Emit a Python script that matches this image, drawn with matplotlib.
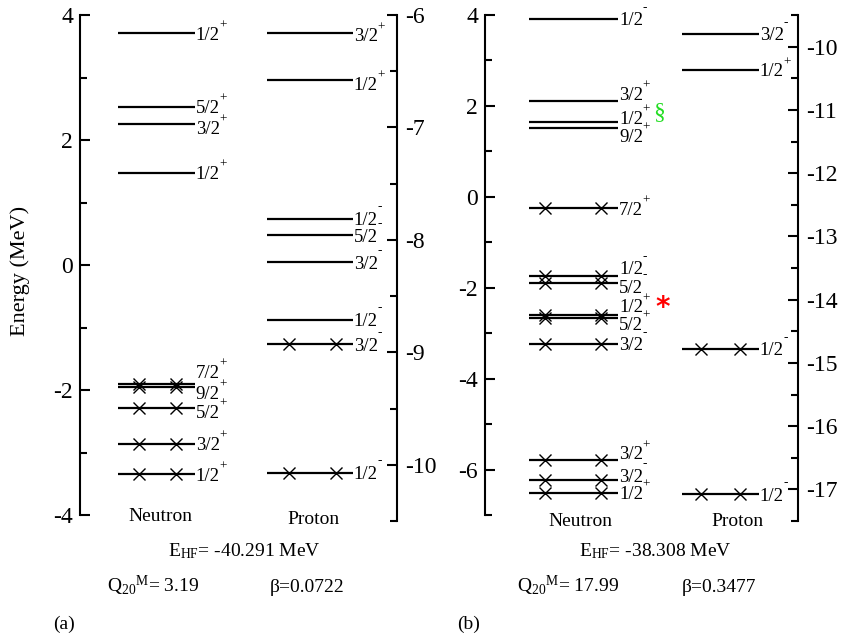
"""
단일 입자 준위 도식 (a) 구형, (b) 변형 -- 중성자/양성자 준위, 점유 준위는 x 표시
"""
import matplotlib
matplotlib.use('Agg')
import matplotlib.pyplot as plt
from matplotlib.ticker import MultipleLocator

plt.rcParams['font.family'] = ['Liberation Serif', 'DejaVu Serif']
plt.rcParams['mathtext.default'] = 'regular'
plt.rcParams['axes.unicode_minus'] = False

# ---- (a) 데이터 ----
neutron_a_E = [3.71, 2.53, 2.26, 1.48, -1.90, -1.95, -2.29, -2.86, -3.35]
neutron_a_spin = ['1/2', '5/2', '3/2', '1/2', '7/2', '9/2', '5/2', '3/2', '1/2']
neutron_a_par = ['+', '+', '+', '+', '+', '+', '+', '+', '+']
neutron_a_occ = [False, False, False, False, True, True, True, True, True]

proton_a_E = [-6.16, -6.58, -7.81, -7.96, -8.20, -8.71, -8.93, -10.07]
proton_a_spin = ['3/2', '1/2', '1/2', '5/2', '3/2', '1/2', '3/2', '1/2']
proton_a_par = ['+', '+', '-', '-', '-', '-', '-', '-']
proton_a_occ = [False, False, False, False, False, False, True, True]

# ---- (b) 데이터 ----
neutron_b_E = [3.91, 2.11, 1.64, 1.52, -0.25, -1.74, -1.90, -2.60, -2.66,
               -3.24, -5.79, -6.22, -6.51]
neutron_b_spin = ['1/2', '3/2', '1/2', '9/2', '7/2', '1/2', '5/2', '1/2', '5/2',
                  '3/2', '3/2', '3/2', '1/2']
neutron_b_par = ['-', '+', '+', '+', '+', '-', '-', '+', '+', '-', '+', '-', '+']
neutron_b_occ = [False, False, False, False, True, True, True, True, True,
                 True, True, True, True]

proton_b_E = [-9.80, -10.37, -14.78, -17.08]
proton_b_spin = ['3/2', '1/2', '1/2', '1/2']
proton_b_par = ['-', '+', '-', '-']
proton_b_occ = [False, False, True, True]

info_a = ['-40.291', '3.19', '0.0722']
info_b = ['-38.308', '17.99', '0.3477']

# 라벨이 겹치는 준위의 세로 이동량 (px)
shift_na = [0, 0, -4, 0, 12, -6, -3, 0, 0]
shift_pa = [-2, -3, 0, 0, 0, 0, 0, 0]
shift_nb = [0, 7, 5, -8, 0, 8, -3, 9, -6, 0, 7, 4, 0]
shift_pb = [0, 0, 0, 0]

W, H = 843, 636
fig = plt.figure(figsize=(W / 100, H / 100), dpi=100)


def px_axes(x0, y_top, x1, y_bot):
    ax = fig.add_axes([x0 / W, 1 - y_bot / H, (x1 - x0) / W, (y_bot - y_top) / H])
    ax.set_facecolor('none')
    ax.set_xlim(0, x1 - x0)
    ax.set_xticks([])
    for s in ['top', 'bottom', 'left', 'right']:
        ax.spines[s].set_visible(False)
    return ax


def style_axis(ax, side, lim, major, minor, pad):
    ax.set_ylim(*lim)
    ax.spines[side].set_visible(True)
    ax.spines[side].set_linewidth(1.5)
    ax.yaxis.set_ticks_position(side)
    ax.yaxis.set_label_position(side)
    ax.yaxis.set_major_locator(MultipleLocator(major))
    ax.yaxis.set_minor_locator(MultipleLocator(minor))
    ax.tick_params(axis='y', which='both', direction='in', width=1.5, labelsize=17, pad=pad)
    ax.tick_params(axis='y', which='major', length=7)
    ax.tick_params(axis='y', which='minor', length=4.8)


def draw_levels(ax, E, spin, par, occ, shifts, x0, x1, xc):
    ax.hlines(E, x0, x1, color='black', linewidth=1.6)
    for e, s, p, o, sh in zip(E, spin, par, occ, shifts):
        if o:
            ax.plot(xc, [e, e], linestyle='none', marker='x', color='black',
                    markersize=9, markeredgewidth=1.0)
        base = sh * 0.72 - 4.6
        ax.annotate(s, (x1, e), xytext=(0.5, base), textcoords='offset points',
                    ha='left', va='baseline', fontsize=13.5)
        rise = 8 if p == '+' else 10.5
        ax.annotate(p, (x1, e), xytext=(17.4, base + rise), textcoords='offset points',
                    ha='left', va='baseline', fontsize=9.5)


# ---- (a) ----
axa = px_axes(80, 15, 397, 515)
style_axis(axa, 'left', (-4, 4), 2, 1, 5)
axa2 = px_axes(80, 15, 397, 521)
style_axis(axa2, 'right', (-10.5, -6), 1, 0.5, 6)
draw_levels(axa, neutron_a_E, neutron_a_spin, neutron_a_par, neutron_a_occ, shift_na,
            38, 115, [59, 96])
draw_levels(axa2, proton_a_E, proton_a_spin, proton_a_par, proton_a_occ, shift_pa,
            186.7, 273, [209, 256])
axa.text(80.5, -0.003, 'Neutron', transform=axa.get_xaxis_transform(),
         ha='center', va='center', fontsize=14)
axa.text(233, -0.009, 'Proton', transform=axa.get_xaxis_transform(),
         ha='center', va='center', fontsize=14)
fig.text(20 / W, 1 - 271 / H, 'Energy (MeV)', rotation=90, ha='center', va='center',
         fontsize=16)

# ---- (b) ----
axb = px_axes(485, 15, 798, 515)
style_axis(axb, 'left', (-7, 4), 2, 1, 5)
axb2 = px_axes(485, 15, 798, 521)
style_axis(axb2, 'right', (-17.5, -9.5), 1, 0.5, 6)
draw_levels(axb, neutron_b_E, neutron_b_spin, neutron_b_par, neutron_b_occ, shift_nb,
            44.3, 133.3, [60, 116])
draw_levels(axb2, proton_b_E, proton_b_spin, proton_b_par, proton_b_occ, shift_pb,
            196.7, 274, [215.7, 255])
axb.text(95, -0.012, 'Neutron', transform=axb.get_xaxis_transform(),
         ha='center', va='center', fontsize=14)
axb.text(252, -0.012, 'Proton', transform=axb.get_xaxis_transform(),
         ha='center', va='center', fontsize=14)

# 특이 준위 표시 (§, *)
axb.annotate('§', (133.3, neutron_b_E[2]), xytext=(29, 7), textcoords='offset points',
             ha='center', va='center', color='#22dd22', fontsize=17)
axb.annotate('*', (133.3, neutron_b_E[7]), xytext=(32, 5), textcoords='offset points',
             ha='center', va='center', color='red', fontsize=20, fontweight='bold',
             family='DejaVu Sans')

# ---- 하단 정보 ----
for info, xe, xq, xb, xl, lab in [(info_a, 244.5, 107, 270, 53, '(a)'),
                                  (info_b, 655.5, 517, 682, 457, '(b)')]:
    fig.text(xe / W, 1 - 556 / H, 'E$_{HF}$= ' + info[0] + ' MeV', ha='center',
             va='baseline', fontsize=14)
    fig.text(xq / W, 1 - 592 / H, 'Q$_{20}{}^{M}$= ' + info[1], ha='left',
             va='baseline', fontsize=14)
    fig.text(xb / W, 1 - 592 / H, 'β=' + info[2], ha='left', va='baseline', fontsize=14)
    fig.text(xl / W, 1 - 629 / H, lab, ha='left', va='baseline', fontsize=14)

plt.savefig('out.png', dpi=100)
plt.close()
